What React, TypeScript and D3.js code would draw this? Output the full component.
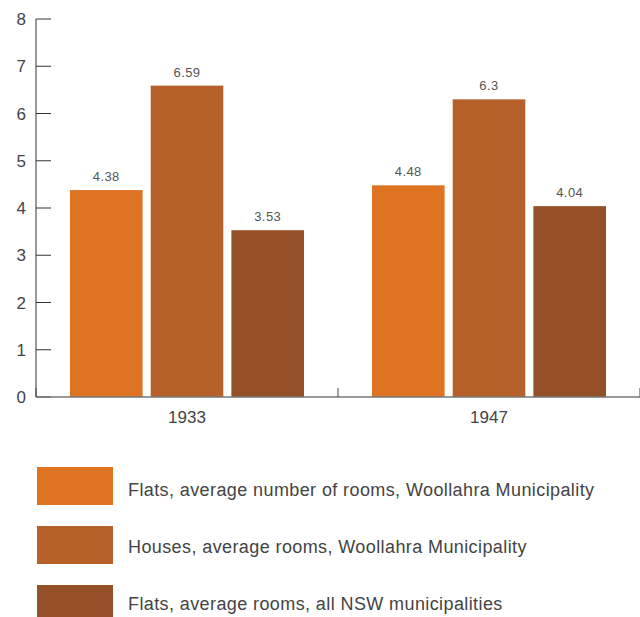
import React from "react";
import * as d3 from "d3";

const categories = ["1933", "1947"];
const seriesNames = [
  "Flats, average number of rooms, Woollahra Municipality",
  "Houses, average rooms, Woollahra Municipality",
  "Flats, average rooms, all NSW municipalities",
];
const flatsWoollahra = [4.38, 4.48];
const housesWoollahra = [6.59, 6.3];
const flatsNSW = [3.53, 4.04];
const seriesColors = ["#DE7421", "#B6612A", "#945128"];
const yTicks = [0, 1, 2, 3, 4, 5, 6, 7, 8];

const W = 640;
const H = 617;

export default function App() {
  const series = [flatsWoollahra, housesWoollahra, flatsNSW];
  const x = d3.scaleBand().domain(categories).range([36, 640]).paddingInner(0).paddingOuter(0);
  const y = d3.scaleLinear().domain([0, 8]).range([397, 19]);
  const inner = d3
    .scaleBand()
    .domain(seriesNames)
    .range([34, x.bandwidth() - 34])
    .paddingInner(0.1);
  const font = "'Liberation Sans', Arial, sans-serif";
  const boundaries = [36, 338, 640];
  return (
    <svg width={W} height={H} style={{ position: "absolute", left: 0, top: 0 }} fontFamily={font}>
      <rect width={W} height={H} fill="#fff" />
      {/* y axis */}
      <line x1={36} x2={36} y1={y(8)} y2={y(0)} stroke="#555" strokeWidth={1.2} />
      {yTicks.map((t) => (
        <g key={t}>
          <line x1={36} x2={51} y1={y(t)} y2={y(t)} stroke="#333" strokeWidth={1} />
          <text x={26} y={y(t)} dy="0.36em" textAnchor="end" fontSize={17} fill="#444">
            {t}
          </text>
        </g>
      ))}
      {/* bars */}
      {categories.map((c, ci) => (
        <g key={c} transform={`translate(${x(c)},0)`}>
          {series.map((s, si) => (
            <g key={si}>
              <rect
                x={inner(seriesNames[si])}
                width={inner.bandwidth()}
                y={y(s[ci])}
                height={y(0) - y(s[ci])}
                fill={seriesColors[si]}
              />
              <text
                x={(inner(seriesNames[si]) as number) + inner.bandwidth() / 2}
                y={y(s[ci]) - 9}
                textAnchor="middle"
                fontSize={13}
                letterSpacing={0.4}
                fill="#555"
              >
                {String(s[ci])}
              </text>
            </g>
          ))}
          <text
            x={x.bandwidth() / 2}
            y={423}
            textAnchor="middle"
            fontSize={17}
            fill="#444"
          >
            {c}
          </text>
        </g>
      ))}
      {/* x axis */}
      <line x1={36} x2={640} y1={397} y2={397} stroke="#777" strokeWidth={1.5} />
      {boundaries.map((b, i) => (
        <line key={i} x1={b} x2={b} y1={397} y2={388} stroke="#444" strokeWidth={1} />
      ))}
      {/* legend */}
      {seriesNames.map((n, i) => (
        <g key={n}>
          <rect x={37} y={467 + i * 59} width={76} height={38} fill={seriesColors[i]} />
          <text x={128} y={496 + i * 57} fontSize={18} letterSpacing={0.4} fill="#444">
            {n}
          </text>
        </g>
      ))}
    </svg>
  );
}
